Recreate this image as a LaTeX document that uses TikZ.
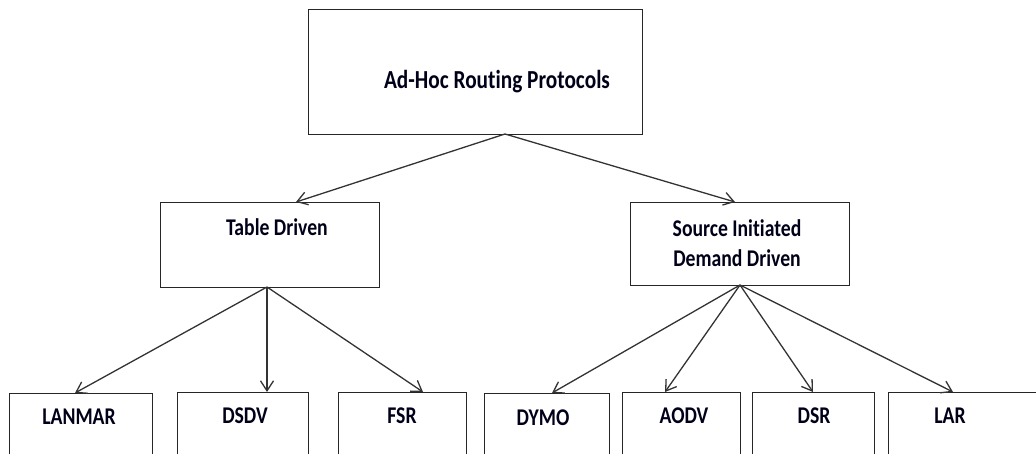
\documentclass[tikz,border=0pt]{standalone}
\usepackage{fontspec}
\setmainfont{Carlito}[FakeStretch=0.82, RawFeature=-liga]
\usetikzlibrary{arrows.meta}
\tikzset{
  box/.style={draw=black!85, line width=1.4pt, inner sep=0pt, anchor=north west},
  lbl/.style={font=\bfseries\fontsize{24}{28}\selectfont, text=black!90!blue, inner sep=0pt, align=center},
  conn/.style={draw=black!80, line width=1.3pt, -{Straight Barb[length=10pt,width=13pt,line width=1.3pt]}}
}
\begin{document}
\begin{tikzpicture}[x=1pt,y=-1pt]
\useasboundingbox (0,0) rectangle (1036,454);
\clip (0,0) rectangle (1036,454);
% boxes
\node[box, minimum width=334, minimum height=125] (top) at (308,9) {};
\node[box, minimum width=219, minimum height=85] (tab) at (160,202) {};
\node[box, minimum width=219, minimum height=83] (src) at (630,202) {};
\node[box, minimum width=143, minimum height=80] (lanmar) at (9,393) {};
\node[box, minimum width=131, minimum height=80] (dsdv) at (177,392) {};
\node[box, minimum width=128, minimum height=80] (fsr) at (338,392) {};
\node[box, minimum width=125, minimum height=80] (dymo) at (484,393) {};
\node[box, minimum width=118, minimum height=80] (aodv) at (622,392) {};
\node[box, minimum width=122, minimum height=80] (dsr) at (752,392) {};
\node[box, minimum width=160, minimum height=80] (lar) at (888,392) {};
% labels
\node[lbl, font=\bfseries\fontsize{26}{30}\selectfont] (ttop) at (497,82) {Ad-Hoc Routing Protocols};
\node[lbl] (ttab) at (277,227) {Table Driven};
\node[lbl, font=\bfseries\fontsize{24}{30}\selectfont] (tsrc) at (737,243) {Source Initiated\\Demand Driven};
\node[lbl] (tlanmar) at (79,417) {LANMAR};
\node[lbl] (tdsdv) at (245,416) {DSDV};
\node[lbl] (tfsr) at (402,416) {FSR};
\node[lbl] (tdymo) at (543,418) {DYMO};
\node[lbl] (taodv) at (684,416) {AODV};
\node[lbl] (tdsr) at (814,416) {DSR};
\node[lbl] (tlar) at (950,416) {LAR};
% connector points
\coordinate (topS) at (505,134);
\coordinate (tabN) at (296,202);
\coordinate (srcN) at (735,202);
\coordinate (tabS) at (267,287);
\coordinate (srcS) at (740,285);
\coordinate (lanmarN) at (75,393);
\coordinate (dsdvN) at (267,392);
\coordinate (fsrN) at (423,392);
\coordinate (dymoN) at (552,393);
\coordinate (aodvN) at (665,392);
\coordinate (dsrN) at (813,392);
\coordinate (larN) at (953,392);
% connectors
\draw[conn] (topS) -- (tabN);
\draw[conn] (topS) -- (srcN);
\draw[conn] (tabS) -- (lanmarN);
\draw[conn] (tabS) -- (dsdvN);
\draw[conn] (tabS) -- (fsrN);
\draw[conn] (srcS) -- (dymoN);
\draw[conn] (srcS) -- (aodvN);
\draw[conn] (srcS) -- (dsrN);
\draw[conn] (srcS) -- (larN);
\end{tikzpicture}
\end{document}
